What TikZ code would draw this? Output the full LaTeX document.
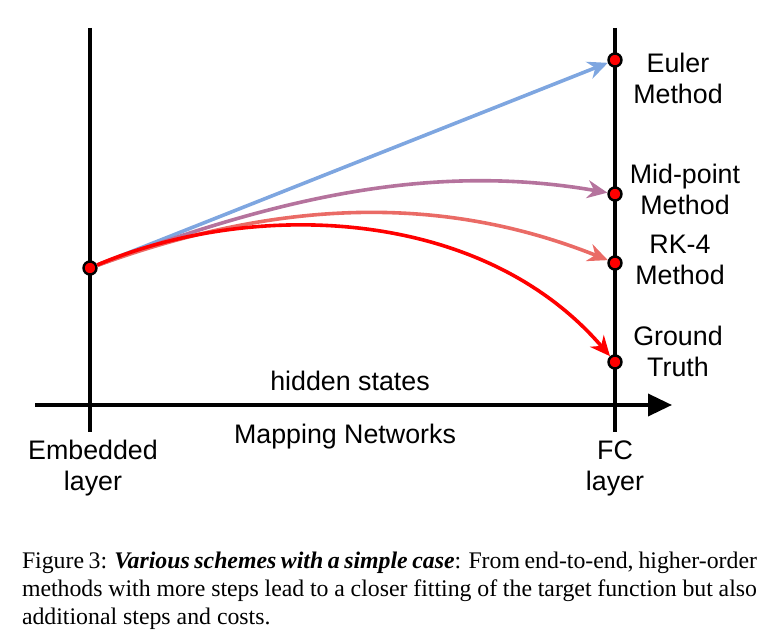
\documentclass[tikz,border=0pt]{standalone}
\usepackage{fontspec}
\setmainfont{Liberation Serif}
\setsansfont{Liberation Sans}
\usetikzlibrary{arrows.meta,positioning}

\definecolor{eulerblue}{RGB}{126,166,224}
\definecolor{midpurple}{RGB}{181,115,157}
\definecolor{rksalmon}{RGB}{234,107,102}
\definecolor{truthred}{RGB}{255,0,0}

\tikzset{
  dot/.style={circle, draw=black, fill=red, line width=1.2pt, minimum size=6.5pt, inner sep=0pt},
  lbl/.style={font=\sffamily\fontsize{13.4}{15.5}\selectfont, align=center, inner sep=0pt},
  flow/.style={line width=1.8pt, -{Stealth[length=10pt,width=9pt]}}
}

\begin{document}
\begin{tikzpicture}[x=0.5pt, y=-0.5pt]
\useasboundingbox (0,0) rectangle (778,640);

% Ejes
	\coordinate (axL) at (35,405);
	\coordinate (axR) at (672,405);
	\draw[line width=1.8pt, -{Triangle[length=12pt,width=11pt]}] (axL) -- (axR);

	\coordinate (embT) at (90,28);
	\coordinate (embB) at (90,432);
	\draw[line width=1.8pt] (embT) -- (embB);

	\coordinate (fcT) at (615,28);
	\coordinate (fcB) at (615,432);
	\draw[line width=1.8pt] (fcT) -- (fcB);

% Puntos
	\node[dot] (emb) at (90,268) {};
	\node[dot] (euler) at (615,60) {};
	\node[dot] (mid) at (615,194) {};
	\node[dot] (rk) at (615,263) {};
	\node[dot] (truth) at (615,362) {};

% Curvas
	\draw[flow, eulerblue] (emb) -- (euler);
	\draw[flow, midpurple] (emb) .. controls (260,205) and (420,160) .. (mid);
	\draw[flow, rksalmon] (emb) .. controls (250,210) and (420,185) .. (rk);
	\draw[flow, truthred] (emb) .. controls (250,200) and (480,205) .. (truth);

% Textos
	\node[lbl] (eulerT) at (678,78) {Euler\\Method};
	\node[lbl] (midT) at (685,189) {Mid-point\\Method};
	\node[lbl] (rkT) at (680,260) {RK-4\\Method};
	\node[lbl] (truthT) at (678,351) {Ground\\Truth};
	\node[lbl] (hidden) at (350,381) {hidden states};
	\node[lbl] (mapping) at (345,437) {Mapping Networks};
	\node[lbl] (embLbl) at (93,468) {Embedded\\layer};
	\node[lbl] (fcLbl) at (615,468) {FC\\layer};

% Leyenda
	\node[text width=367.5pt, align=justify, inner sep=0pt, font=\fontsize{11.9}{14}\selectfont] (caption) at (389.5,591)
		{Figure 3: \textbf{\textit{Various schemes with a simple case}}: From end-to-end, higher-order methods with more steps lead to a closer fitting of the target function but also additional steps and costs.};
\end{tikzpicture}
\end{document}
